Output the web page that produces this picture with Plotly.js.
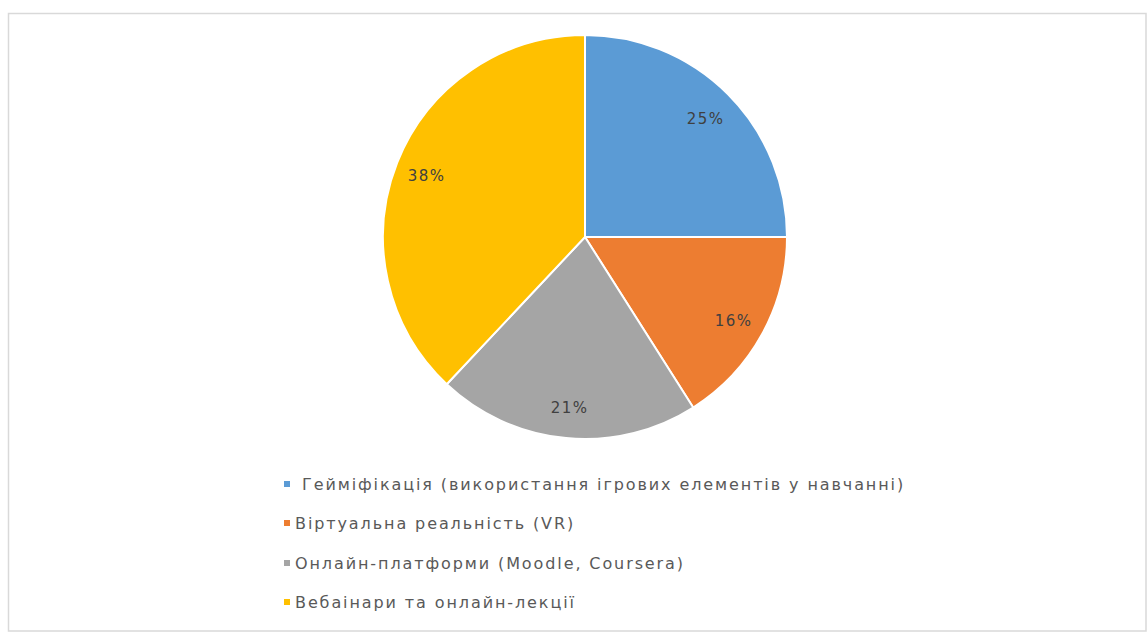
<!DOCTYPE html>
<html>
<head>
<meta charset="utf-8">
<script src="https://cdn.plot.ly/plotly-3.0.1.min.js"></script>
<style>
html,body{margin:0;padding:0;background:#fff;}
#chart{width:1148px;height:632px;}
</style>
</head>
<body>
<div id="chart"></div>
<script>
const categories = [
  " Гейміфікація (використання ігрових елементів у навчанні)",
  "Віртуальна реальність (VR)",
  "Онлайн-платформи (Moodle, Coursera)",
  "Вебаінари та онлайн-лекції"
];
const values = [25, 16, 21, 38];
const colors = ["#5B9BD5", "#ED7D31", "#A5A5A5", "#FFC000"];

const W = 1148, H = 632;
const cx = 585, cy = 237, r = 202;
const FONT = "DejaVu Sans, Noto Sans, sans-serif";

const trace = {
  type: "pie",
  labels: categories,
  values: values,
  sort: false,
  direction: "clockwise",
  rotation: 0,
  marker: {colors: colors, line: {color: "#ffffff", width: 2}},
  textinfo: "none",
  hoverinfo: "label+percent",
  showlegend: false,
  domain: {x: [(cx - r) / W, (cx + r) / W], y: [1 - (cy + r) / H, 1 - (cy - r) / H]}
};

// percent labels placed along each slice's mid-angle (computed from values)
const total = values.reduce((a, b) => a + b, 0);
const annotations = [];
let cum = 0;
values.forEach((v, i) => {
  const mid = (cum + v / 2) / total * 2 * Math.PI;
  cum += v;
  const d = 170;
  const px = cx + d * Math.sin(mid);
  const py = cy + 2 - d * Math.cos(mid);
  annotations.push({
    xref: "paper", yref: "paper", x: px / W, y: 1 - py / H,
    xanchor: "center", yanchor: "middle", showarrow: false,
    text: Math.round(v / total * 100) + "%",
    font: {family: FONT, size: 15, color: "#404040"}
  });
});

const legendY = [484, 523, 563, 602];
const shapes = [{
  type: "rect", xref: "paper", yref: "paper",
  x0: 8.5 / W, x1: 1146 / W, y0: 1 - 631 / H, y1: 1 - 13.5 / H,
  line: {color: "#d9d9d9", width: 1.5}, fillcolor: "rgba(0,0,0,0)"
}];
categories.forEach((c, i) => {
  const y = legendY[i];
  shapes.push({
    type: "rect", xref: "paper", yref: "paper",
    x0: 284 / W, x1: 290 / W, y0: 1 - (y + 3) / H, y1: 1 - (y - 3) / H,
    line: {width: 0}, fillcolor: colors[i]
  });
  annotations.push({
    xref: "paper", yref: "paper", x: 293 / W, y: 1 - y / H,
    xanchor: "left", yanchor: "middle", showarrow: false,
    width: 760, align: "left",
    text: c.replace(/^ /, "&nbsp;"),
    font: {family: FONT, size: 16, color: "#595959"}
  });
});

const layout = {
  width: W, height: H,
  margin: {l: 0, r: 0, t: 0, b: 0},
  paper_bgcolor: "#ffffff",
  showlegend: false,
  shapes: shapes,
  annotations: annotations
};

Plotly.newPlot("chart", [trace], layout, {displayModeBar: false, staticPlot: true}).then(() => {
  document.querySelectorAll("#chart .annotation-text").forEach(t => {
    t.style.letterSpacing = /%/.test(t.textContent) ? "1.5px" : "1.9px";
  });
});
</script>
</body>
</html>
